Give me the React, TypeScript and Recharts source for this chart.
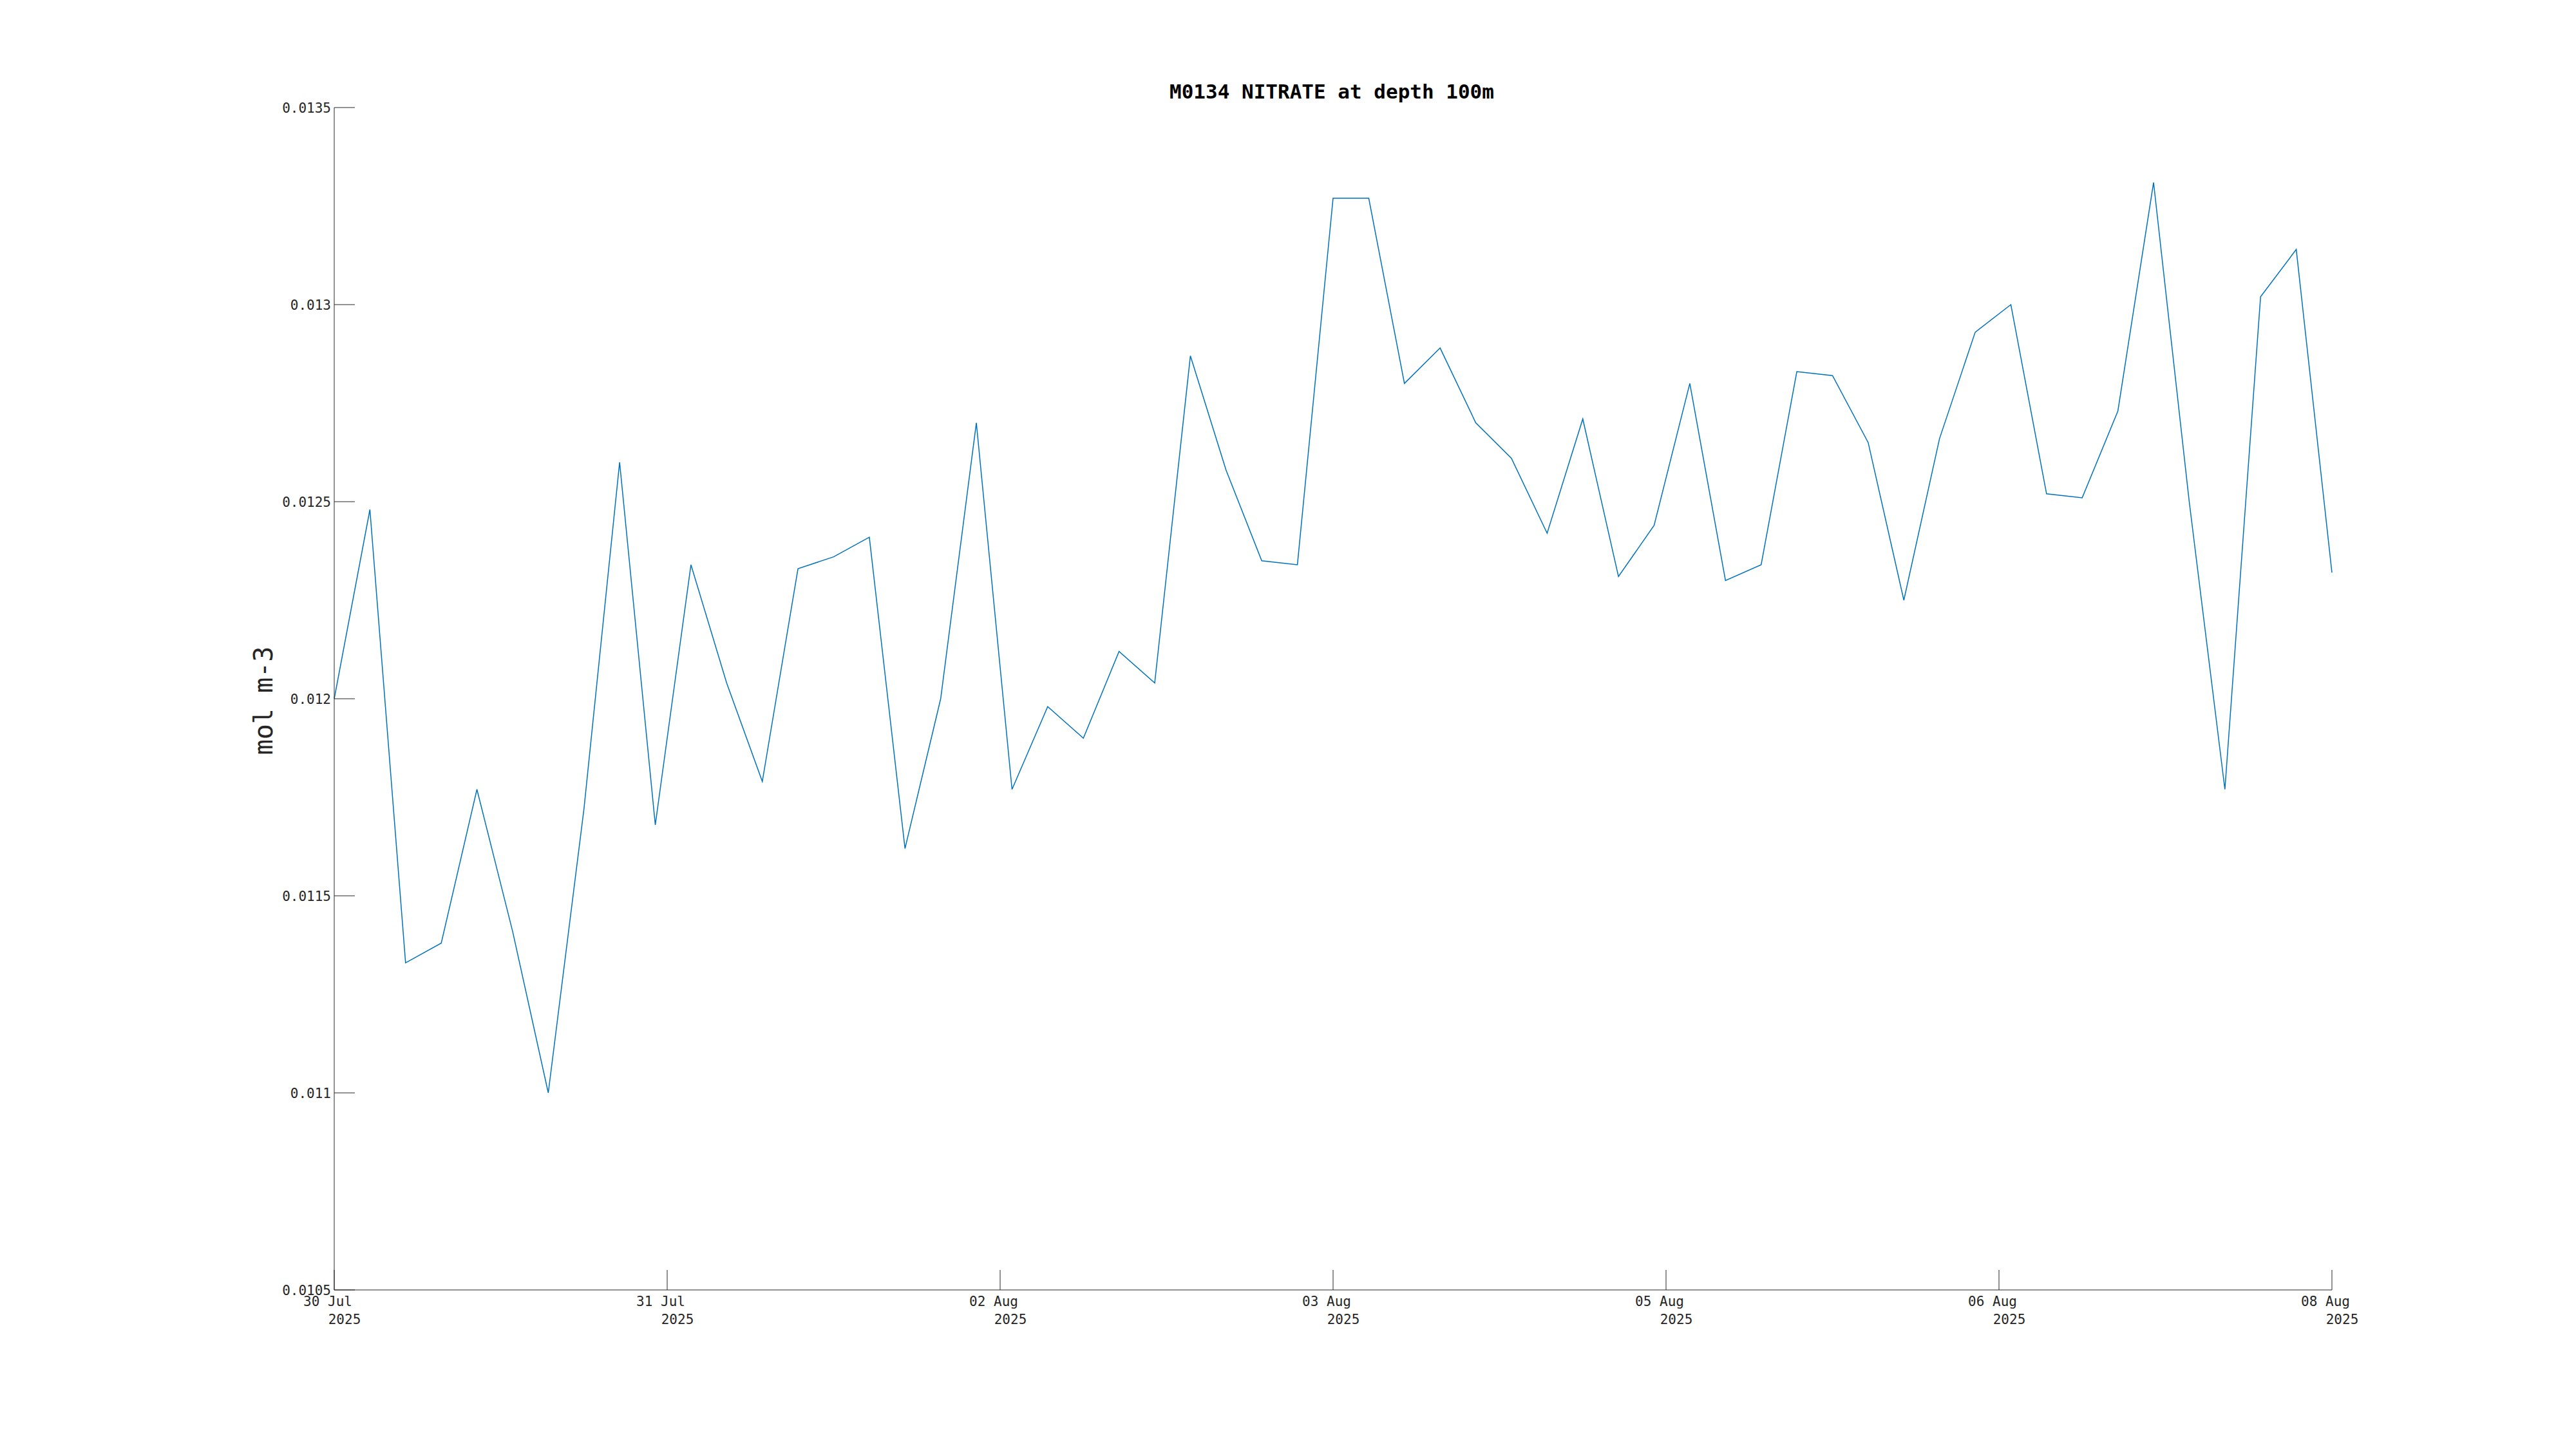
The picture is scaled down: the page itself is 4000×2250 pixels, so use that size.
import React from "react";
import { LineChart, Line, XAxis, YAxis } from "recharts";

// sample times (UTC), 4-hourly
const sampleTimes = [
  "2025-07-30T00:00", "2025-07-30T04:00", "2025-07-30T08:00", "2025-07-30T12:00", "2025-07-30T16:00", "2025-07-30T20:00",
  "2025-07-31T00:00", "2025-07-31T04:00", "2025-07-31T08:00", "2025-07-31T12:00", "2025-07-31T16:00", "2025-07-31T20:00",
  "2025-08-01T00:00", "2025-08-01T04:00", "2025-08-01T08:00", "2025-08-01T12:00", "2025-08-01T16:00", "2025-08-01T20:00",
  "2025-08-02T00:00", "2025-08-02T04:00", "2025-08-02T08:00", "2025-08-02T12:00", "2025-08-02T16:00", "2025-08-02T20:00",
  "2025-08-03T00:00", "2025-08-03T04:00", "2025-08-03T08:00", "2025-08-03T12:00", "2025-08-03T16:00", "2025-08-03T20:00",
  "2025-08-04T00:00", "2025-08-04T04:00", "2025-08-04T08:00", "2025-08-04T12:00", "2025-08-04T16:00", "2025-08-04T20:00",
  "2025-08-05T00:00", "2025-08-05T04:00", "2025-08-05T08:00", "2025-08-05T12:00", "2025-08-05T16:00", "2025-08-05T20:00",
  "2025-08-06T00:00", "2025-08-06T04:00", "2025-08-06T08:00", "2025-08-06T12:00", "2025-08-06T16:00", "2025-08-06T20:00",
  "2025-08-07T00:00", "2025-08-07T04:00", "2025-08-07T08:00", "2025-08-07T12:00", "2025-08-07T16:00", "2025-08-07T20:00",
  "2025-08-08T00:00", "2025-08-08T04:00", "2025-08-08T08:00",
];

// nitrate, mol m-3
const nitrate = [
  0.01200, 0.01248, 0.01133, 0.01138, 0.01177, 0.01141,
  0.01100, 0.01172, 0.01260, 0.01168, 0.01234, 0.01204,
  0.01179, 0.01233, 0.01236, 0.01241, 0.01162, 0.01200,
  0.01270, 0.01177, 0.01198, 0.01190, 0.01212, 0.01204,
  0.01287, 0.01258, 0.01235, 0.01234, 0.01327, 0.01327,
  0.01280, 0.01289, 0.01270, 0.01261, 0.01242, 0.01271,
  0.01231, 0.01244, 0.01280, 0.01230, 0.01234, 0.01283,
  0.01282, 0.01265, 0.01225, 0.01266, 0.01293, 0.01300,
  0.01252, 0.01251, 0.01273, 0.01331, 0.01250, 0.01177,
  0.01302, 0.01314, 0.01232,
];

const xTickTimes = [
  "2025-07-30T00:00", "2025-07-31T13:20", "2025-08-02T02:40", "2025-08-03T16:00",
  "2025-08-05T05:20", "2025-08-06T18:40", "2025-08-08T08:00",
];
const xTickDays = ["30 Jul", "31 Jul", "02 Aug", "03 Aug", "05 Aug", "06 Aug", "08 Aug"];
const xTickYear = "2025";

const yTicks = [0.0105, 0.011, 0.0115, 0.012, 0.0125, 0.013, 0.0135];
const yTickLabels = ["0.0105", "0.011", "0.0115", "0.012", "0.0125", "0.013", "0.0135"];

const toMs = (s: string) => Date.parse(s + ":00Z");

const data = sampleTimes.map((t, i) => ({ t: toMs(t), v: nitrate[i] }));
const xTicks = xTickTimes.map(toMs);

const FONT = "'DejaVu Sans Mono', monospace";
const AX = "#262626";

const YTick = (props: any) => {
  const { x, y, payload } = props;
  const idx = yTicks.findIndex((v) => Math.abs(v - payload.value) < 1e-9);
  return (
    <g>
      <line x1={x} x2={x + 32} y1={y} y2={y} stroke={AX} strokeWidth={1} />
      <text x={x - 5} y={y} dy="0.36em" textAnchor="end" fontFamily={FONT} fontSize={21} fill={AX}>
        {yTickLabels[idx]}
      </text>
    </g>
  );
};

const XTick = (props: any) => {
  const { x, y, payload } = props;
  const idx = xTicks.findIndex((v) => v === payload.value);
  return (
    <g>
      <line x1={x} x2={x} y1={y} y2={y - 31} stroke={AX} strokeWidth={1} />
      <text x={x - 10} y={y + 25} textAnchor="middle" fontFamily={FONT} fontSize={21} fill={AX}>
        {xTickDays[idx]}
      </text>
      <text x={x + 16} y={y + 53} textAnchor="middle" fontFamily={FONT} fontSize={21} fill={AX}>
        {xTickYear}
      </text>
    </g>
  );
};

export default function App() {
  return (
    <div style={{ position: "absolute", left: 0, top: 0, width: 4000, height: 2250, background: "#fff" }}>
      <LineChart width={4000} height={2250} data={data} margin={{ top: 167, right: 379, bottom: 187, left: 419 }}>
        <XAxis
          dataKey="t"
          type="number"
          domain={[xTicks[0], xTicks[xTicks.length - 1]]}
          ticks={xTicks}
          interval={0}
          height={60}
          tickSize={0}
          tickMargin={0}
          tickLine={false}
          axisLine={{ stroke: AX, strokeWidth: 1 }}
          tick={<XTick />}
        />
        <YAxis
          type="number"
          domain={[0.0105, 0.0135]}
          ticks={yTicks}
          interval={0}
          width={100}
          tickSize={0}
          tickMargin={0}
          tickLine={false}
          axisLine={{ stroke: AX, strokeWidth: 1 }}
          tick={<YTick />}
        />
        <Line
          type="linear"
          dataKey="v"
          stroke="#0072BD"
          strokeWidth={1.5}
          dot={false}
          isAnimationActive={false}
        />
      </LineChart>
      <svg width={4000} height={2250} style={{ position: "absolute", left: 0, top: 0, pointerEvents: "none" }}>
        <text x={2068} y={153} textAnchor="middle" fontFamily={FONT} fontWeight="bold" fontSize={31} fill="#000">
          M0134 NITRATE at depth 100m
        </text>
        <text
          x={423}
          y={1088}
          textAnchor="middle"
          fontFamily={FONT}
          fontSize={40}
          fill={AX}
          transform="rotate(-90, 423, 1088)"
        >
          mol m-3
        </text>
      </svg>
    </div>
  );
}
